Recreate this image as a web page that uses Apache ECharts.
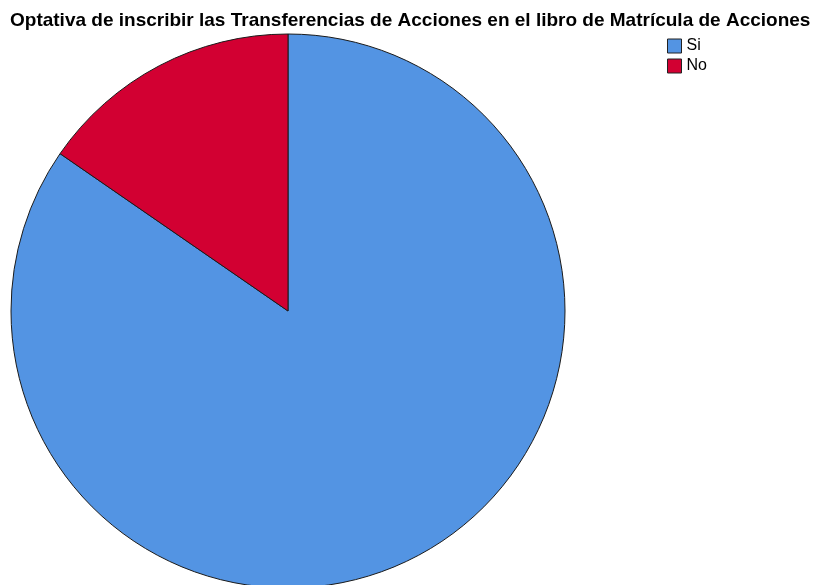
<!DOCTYPE html>
<html>
<head>
<meta charset="utf-8">
<script src="https://cdn.jsdelivr.net/npm/echarts@6/dist/echarts.min.js"></script>
<style>html,body{margin:0;padding:0;background:#fff}#c{width:813px;height:585px}</style>
</head>
<body>
<div id="c"></div>
<script>
const titleText = 'Optativa de inscribir las Transferencias de Acciones en el libro de Matrícula de Acciones';
const categories = ['Si', 'No'];
const values = [11, 2];
const colors = ['#5394E3', '#D20032'];

const chart = echarts.init(document.getElementById('c'));
chart.setOption({
  animation: false,
  title: {
    text: titleText,
    left: 5,
    top: 6,
    textStyle: {fontFamily: 'Liberation Sans, Arial, sans-serif', fontSize: 19, fontWeight: 'bold', color: '#000'}
  },
  legend: {
    orient: 'vertical',
    left: 662,
    top: 33,
    itemWidth: 14,
    itemHeight: 14,
    itemGap: 4,
    data: categories,
    icon: 'rect',
    itemStyle: {borderColor: '#222', borderWidth: 1},
    textStyle: {fontFamily: 'Liberation Sans, Arial, sans-serif', fontSize: 16, color: '#000', padding: [0,0,0,0]}
  },
  series: [{
    type: 'pie',
    center: [288, 311],
    radius: 277,
    startAngle: 90,
    clockwise: true,
    label: {show: false},
    labelLine: {show: false},
    emphasis: {disabled: true},
    itemStyle: {borderColor: '#1a1a1a', borderWidth: 1},
    data: categories.map((c, i) => ({name: c, value: values[i], itemStyle: {color: colors[i]}}))
  }]
});
</script>
</body>
</html>
